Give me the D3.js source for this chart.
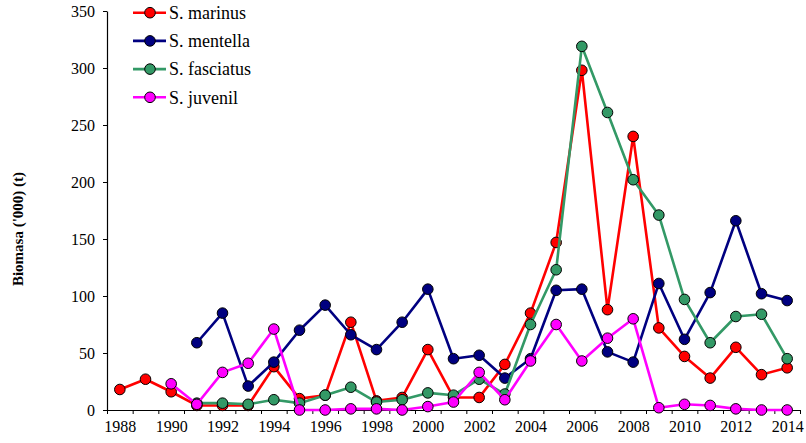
<!DOCTYPE html>
<html><head><meta charset="utf-8">
<script src="https://cdn.jsdelivr.net/npm/d3@7"></script>
<style>body{margin:0;background:#fff;} svg{display:block;}</style>
</head><body>
<svg id="chart" width="806" height="443"></svg>
<script>
const years = d3.range(1988, 2015);
const seriesNames = ["S. marinus", "S. mentella", "S. fasciatus", "S. juvenil"];
const seriesColors = ["#FF0000", "#000080", "#339966", "#FF00FF"];
// null = no data
const marinus = [18,27,16,4,4,4,38,10,13,77,8,11,53,11,11,40,85,147,298,88,240,72,47,28,55,31,37];
const mentella = [null,null,null,59,85,21,42,70,92,66,53,77,106,45,48,28,45,105,106,51,42,111,62,103,166,102,96];
const fasciatus = [null,null,null,6,6,5,9,6,13,20,7,9,15,13,27,14,75,123,319,261,202,171,97,59,82,84,45];
const juvenil = [null,null,23,5,33,41,71,0,0,1,1,0,3,7,33,9,43,75,43,63,80,2,5,4,1,0,0];
const yTicks = [0,50,100,150,200,250,300,350];
const xLabels = d3.range(1988, 2015, 2);
const yLabel = "Biomasa ('000) (t)";

const allSeries = [marinus, mentella, fasciatus, juvenil];
const svg = d3.select("#chart");
const L = 107, R = 800, T = 11, B = 410;
const x = d3.scaleLinear().domain([1987.5, 2014.5]).range([L, R]);
const y = d3.scaleLinear().domain([0, 350]).range([B, T]);
const serif = "'Liberation Serif','Times New Roman',serif";

// y axis
const gy = svg.append("g").attr("transform", `translate(${L},0)`)
  .call(d3.axisLeft(y).tickValues(yTicks).tickSize(4).tickPadding(8).tickSizeOuter(0));
gy.select(".domain").attr("stroke", "#000").attr("stroke-width", 1.2);
gy.selectAll(".tick line").attr("stroke", "#000");
gy.selectAll(".tick text").attr("font-family", serif).attr("font-size", 16).attr("fill", "#000");

// x axis: ticks between categories
const gx = svg.append("g").attr("transform", `translate(0,${B})`)
  .call(d3.axisBottom(x).tickValues(d3.range(1987.5, 2015, 1)).tickSize(4).tickFormat("").tickSizeOuter(0));
gx.select(".domain").attr("stroke", "#000").attr("stroke-width", 1.2);
gx.selectAll(".tick line").attr("stroke", "#000");
const gxl = svg.append("g").attr("transform", `translate(0,${B})`)
  .call(d3.axisBottom(x).tickValues(xLabels).tickSize(0).tickPadding(11).tickFormat(d3.format("d")));
gxl.select(".domain").remove();
gxl.selectAll(".tick text").attr("font-family", serif).attr("font-size", 16).attr("fill", "#000");

// y label
svg.append("text").attr("transform", `translate(23,229) rotate(-90)`)
  .attr("text-anchor", "middle").attr("font-family", serif).attr("font-weight", "bold")
  .attr("font-size", 15).text(yLabel);

// series
const line = d3.line().defined(d => d.v !== null).x(d => x(d.year)).y(d => y(d.v));
allSeries.forEach((vals, i) => {
  const data = years.map((yr, j) => ({year: yr, v: vals[j]}));
  const g = svg.append("g");
  g.append("path").datum(data).attr("d", line).attr("fill", "none")
    .attr("stroke", seriesColors[i]).attr("stroke-width", 2.6).attr("stroke-linejoin", "round");
  g.selectAll("circle").data(data.filter(d => d.v !== null)).join("circle")
    .attr("cx", d => x(d.year)).attr("cy", d => y(d.v)).attr("r", 5.3)
    .attr("fill", seriesColors[i]).attr("stroke", "#000").attr("stroke-width", 1);
});

// legend
const lg = svg.append("g");
seriesNames.forEach((name, i) => {
  const cy = 12.7 + i * 28.2;
  lg.append("line").attr("x1", 133).attr("x2", 166).attr("y1", cy).attr("y2", cy)
    .attr("stroke", seriesColors[i]).attr("stroke-width", 2.6);
  lg.append("circle").attr("cx", 150).attr("cy", cy).attr("r", 5.3)
    .attr("fill", seriesColors[i]).attr("stroke", "#000").attr("stroke-width", 1);
  lg.append("text").attr("x", 169).attr("y", cy).attr("dy", "0.35em")
    .attr("font-family", serif).attr("font-size", 18).attr("fill", "#000").text(name);
});
</script>
</body></html>
